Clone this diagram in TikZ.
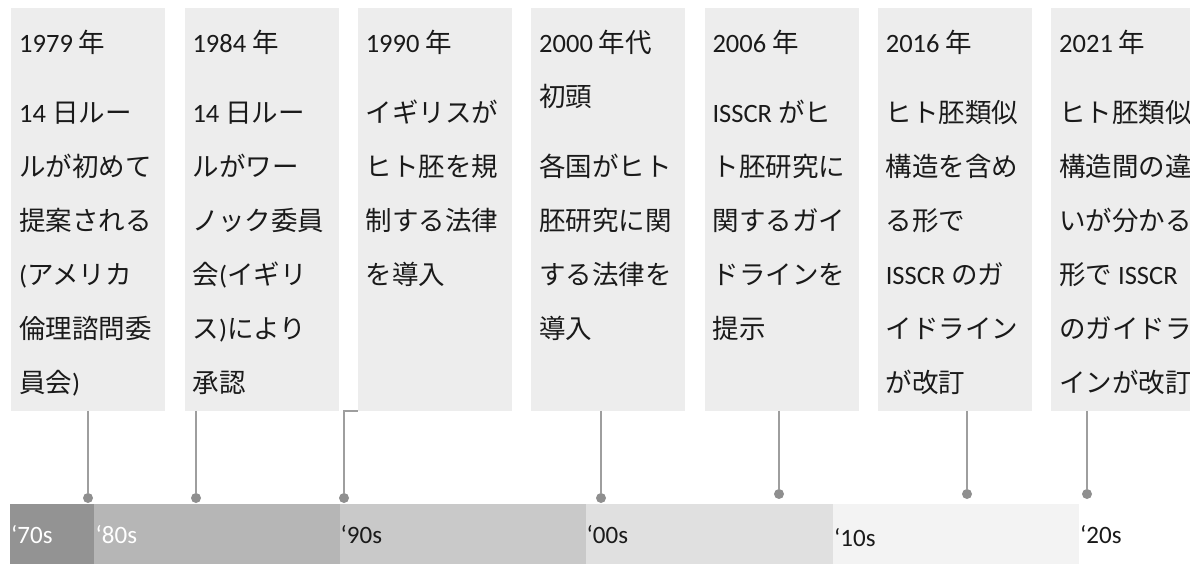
\documentclass[tikz,border=0pt]{standalone}
\usepackage{fontspec}
\setmainfont{Carlito}
\newfontfamily\jpfont{Noto Sans CJK JP}
% Japanese characters switch to the CJK font automatically
\newXeTeXintercharclass\jpclass
\count255="3000
\loop
  \XeTeXcharclass\count255=\jpclass
  \advance\count255 by 1
\ifnum\count255<"A000 \repeat
\count255="FF00
\loop
  \XeTeXcharclass\count255=\jpclass
  \advance\count255 by 1
\ifnum\count255<"FFF0 \repeat
\XeTeXinterchartoks 0 \jpclass = {\jpfont}
\XeTeXinterchartoks 4095 \jpclass = {\jpfont}
\XeTeXinterchartoks \jpclass 0 = {\rmfamily}
\XeTeXinterchartoks 4095 0 = {\rmfamily}
\definecolor{boxgray}{HTML}{EDEDED}
\definecolor{linegray}{HTML}{9E9E9E}
\definecolor{dotgray}{HTML}{8F8F8F}
\definecolor{textblack}{HTML}{1A1A1A}
\definecolor{bar70}{HTML}{939393}
\definecolor{bar80}{HTML}{B6B6B6}
\definecolor{bar90}{HTML}{C9C9C9}
\definecolor{bar00}{HTML}{E0E0E0}
\definecolor{bar10}{HTML}{F3F3F3}
\newcommand{\evfont}{\XeTeXinterchartokenstate=1 \fontsize{26.5}{54}\selectfont}
\newcommand{\tline}[1]{\hbox{#1}}
\begin{document}
\begin{tikzpicture}[x=1pt,y=-1pt,
  evbox/.style={fill=boxgray, inner sep=0pt, minimum width=154pt, minimum height=402.5pt, anchor=north west},
  evtext/.style={inner sep=0pt, anchor=base west, text=textblack, font=\evfont},
  decbar/.style={inner sep=0pt, minimum height=60pt, anchor=north west},
  declab/.style={inner sep=0pt, anchor=base west, font=\rmfamily\fontsize{25}{30}\selectfont},
  dot/.style={circle, fill=dotgray, inner sep=0pt, minimum size=10pt},
  conn/.style={draw=linegray, line width=1.5pt}]
\useasboundingbox (0,0) rectangle (1190,564);
% event boxes
\node[evbox] (e1) at (11,8) {};
\node[evbox] (e2) at (184.3,8) {};
\node[evbox] (e3) at (357.6,8) {};
\node[evbox] (e4) at (531,8) {};
\node[evbox] (e5) at (704.3,8) {};
\node[evbox] (e6) at (877.6,8) {};
\node[evbox] (e7) at (1051,8) {};
% event texts
\node[evtext] (t1) at (19,53) {\vtop{\tline{1979 年}\vskip16pt
  \tline{14 日ルー}\tline{ルが初めて}\tline{提案される}\tline{(アメリカ}\tline{倫理諮問委}\tline{員会)}}};
\node[evtext] (t2) at (192.3,53) {\vtop{\tline{1984 年}\vskip16pt
  \tline{14 日ルー}\tline{ルがワー}\tline{ノック委員}\tline{会(イギリ}\tline{ス)により}\tline{承認}}};
\node[evtext] (t3) at (365.6,53) {\vtop{\tline{1990 年}\vskip16pt
  \tline{イギリスが}\tline{ヒト胚を規}\tline{制する法律}\tline{を導入}}};
\node[evtext] (t4) at (539,53) {\vtop{\tline{2000 年代}\tline{初頭}\vskip16pt
  \tline{各国がヒト}\tline{胚研究に関}\tline{する法律を}\tline{導入}}};
\node[evtext] (t5) at (712.3,53) {\vtop{\tline{2006 年}\vskip16pt
  \tline{ISSCR がヒ}\tline{ト胚研究に}\tline{関するガイ}\tline{ドラインを}\tline{提示}}};
\node[evtext] (t6) at (885.6,53) {\vtop{\tline{2016 年}\vskip16pt
  \tline{ヒト胚類似}\tline{構造を含め}\tline{る形で}\tline{ISSCR のガ}\tline{イドライン}\tline{が改訂}}};
\node[evtext] (t7) at (1059,53) {\vtop{\tline{2021 年}\vskip16pt
  \tline{ヒト胚類似}\tline{構造間の違}\tline{いが分かる}\tline{形で ISSCR}\tline{のガイドラ}\tline{インが改訂}}};
% decade bars
\node[decbar, fill=bar70, minimum width=84pt] (d70) at (10,504) {};
\node[decbar, fill=bar80, minimum width=246pt] (d80) at (94,504) {};
\node[decbar, fill=bar90, minimum width=246pt] (d90) at (340,504) {};
\node[decbar, fill=bar00, minimum width=247pt] (d00) at (586,504) {};
\node[decbar, fill=bar10, minimum width=246pt] (d10) at (833,504) {};
\node[decbar, fill=white, minimum width=111pt] (d20) at (1079,504) {};
\node[declab, text=white] (l70) at (11,543) {‘70s};
\node[declab, text=white] (l80) at (95.5,543) {‘80s};
\node[declab, text=textblack] (l90) at (340.5,543) {‘90s};
\node[declab, text=textblack] (l00) at (586.5,543) {‘00s};
\node[declab, text=textblack] (l10) at (834,546) {‘10s};
\node[declab, text=textblack] (l20) at (1080,543) {‘20s};
% markers
\node[dot] (p1) at (88,498) {};
\node[dot] (p2) at (196,498) {};
\node[dot] (p3) at (344,498) {};
\node[dot] (p4) at (601,498) {};
\node[dot] (p5) at (779,494) {};
\node[dot] (p6) at (967,494) {};
\node[dot] (p7) at (1087,494) {};
% connectors
\draw[conn] (e1.south -| p1) -- (p1);
\draw[conn] (e2.south -| p2) -- (p2);
\draw[conn] (e3.south west) -| (p3);
\draw[conn] (e4.south -| p4) -- (p4);
\draw[conn] (e5.south -| p5) -- (p5);
\draw[conn] (e6.south -| p6) -- (p6);
\draw[conn] (e7.south -| p7) -- (p7);
\end{tikzpicture}
\end{document}
